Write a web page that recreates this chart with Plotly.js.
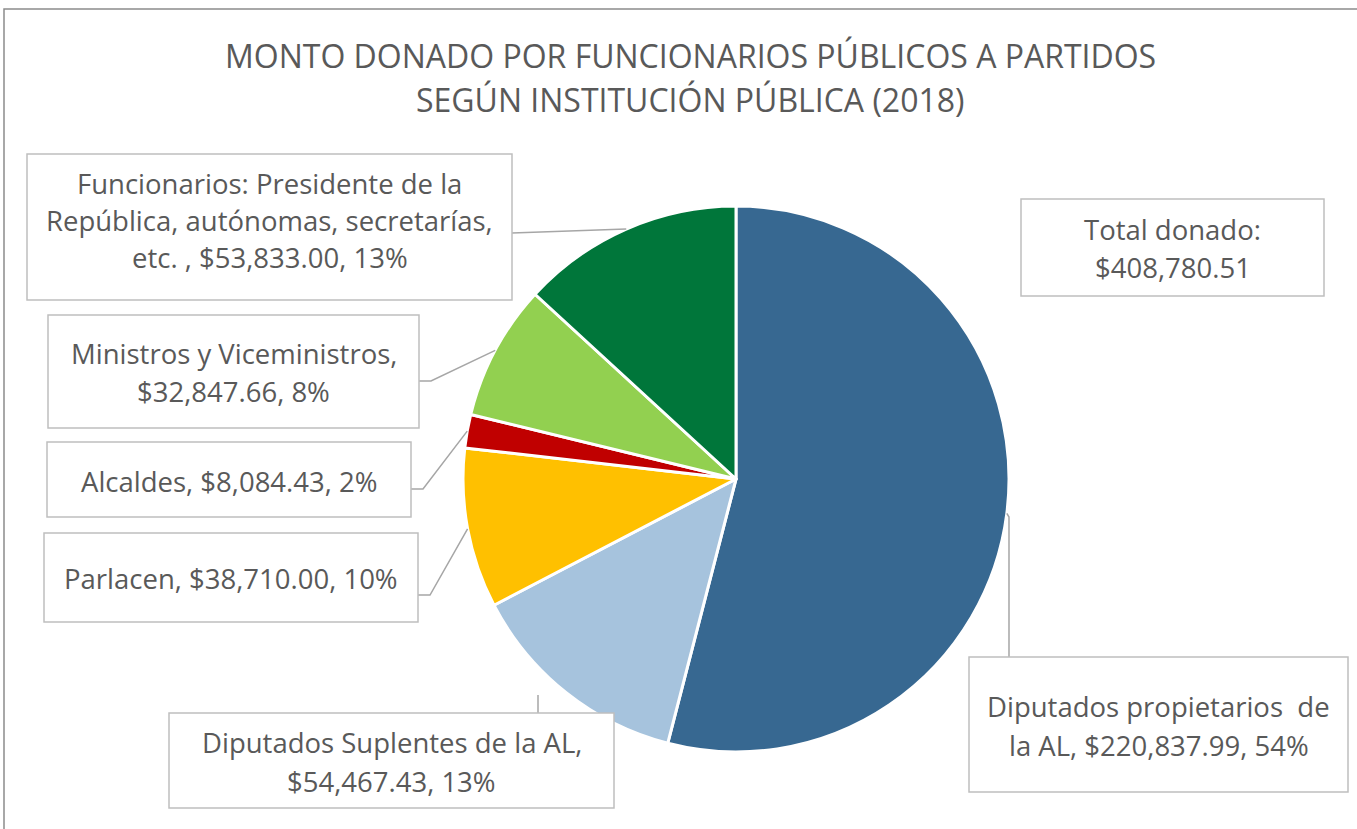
<!DOCTYPE html>
<html>
<head>
<meta charset="utf-8">
<script src="https://cdn.plot.ly/plotly-3.0.1.min.js"></script>
<style>
  html, body { margin: 0; padding: 0; background: #ffffff; }
  #chart { width: 1357px; height: 829px; }
</style>
</head>
<body>
<div id="chart"></div>
<script>
// ---------------- DATA ----------------
const titleLines = ["MONTO DONADO POR FUNCIONARIOS PÚBLICOS A PARTIDOS", "SEGÚN INSTITUCIÓN PÚBLICA (2018)"];
const categories = [
  "Diputados propietarios\u00a0 de la AL",
  "Diputados Suplentes de la AL",
  "Parlacen",
  "Alcaldes",
  "Ministros y Viceministros",
  "Funcionarios: Presidente de la República, autónomas, secretarías, etc. "
];
const values = [220837.99, 54467.43, 38710.00, 8084.43, 32847.66, 53833.00];
const pctLabels = [54, 13, 10, 2, 8, 13];
const colors = ["#376891", "#A6C3DD", "#FFC000", "#C00000", "#92D050", "#00763A"];
const totalLabel = "Total donado:";

// ---------------- LAYOUT GEOMETRY (pixels) ----------------
const W = 1357, H = 829;
const CX = 736, CY = 479, R = 273;
const X = px => px / W;
const Y = py => 1 - py / H;
const fmt = v => "$" + v.toLocaleString("en-US", {minimumFractionDigits: 2, maximumFractionDigits: 2});

// label boxes: box rect, line centre y's, words per line, leader path (after slice edge point)
const boxes = [
  {x0: 969, x1: 1348, y0: 657, y1: 792, ys: [706, 745], words: [3], leader: {edge: true, pts: [[1009, 517], [1009, 657]]}},
  {x0: 169, x1: 614, y0: 713, y1: 808, ys: [742, 781], words: [5], leader: {edge: false, pts: [[538, 695], [538, 713]]}},
  {x0: 44, x1: 418, y0: 533, y1: 622, ys: [578], words: [], leader: {edge: true, pts: [[430, 595], [418, 595]]}},
  {x0: 47, x1: 411, y0: 442, y1: 517, ys: [481], words: [], leader: {edge: true, pts: [[423, 489], [411, 489]]}},
  {x0: 48, x1: 419, y0: 315, y1: 428, ys: [353, 391], words: [3], leader: {edge: true, pts: [[431, 381], [419, 381]]}},
  {x0: 27, x1: 512, y0: 154, y1: 300, ys: [183, 220, 257], words: [4, 3], leader: {edge: true, pts: [[512, 233]]}}
];
const totalBox = {x0: 1021, x1: 1324, y0: 199, y1: 296, ys: [229, 267]};

const textColor = "#595959";
const fontFam = "'Open Sans', sans-serif";
const labelSize = 27.5;
const titleSize = 32;

// ---------------- BUILD ----------------
const total = values.reduce((a, b) => a + b, 0);
const shapes = [];
const annotations = [];

// outer frame
shapes.push({type: "rect", xref: "paper", yref: "paper", x0: X(4), x1: X(1362), y0: Y(9), y1: Y(840),
  line: {color: "#8C8C8C", width: 1.5}, fillcolor: "rgba(0,0,0,0)", layer: "below"});

// title
titleLines.forEach((t, i) => {
  annotations.push({xref: "paper", yref: "paper", x: X(690), y: Y([55, 100][i]), xanchor: "center", yanchor: "middle",
    text: t, showarrow: false, font: {family: fontFam, size: titleSize, color: textColor}});
});

function splitLines(str, words) {
  const w = str.split(" ");
  const lines = [];
  let idx = 0;
  words.forEach(n => { lines.push(w.slice(idx, idx + n).join(" ")); idx += n; });
  lines.push(w.slice(idx).join(" "));
  return lines;
}

function addBox(b, lines) {
  shapes.push({type: "rect", xref: "paper", yref: "paper", x0: X(b.x0), x1: X(b.x1), y0: Y(b.y0), y1: Y(b.y1),
    line: {color: "#BFBFBF", width: 1.5}, fillcolor: "#ffffff"});
  lines.forEach((ln, i) => {
    annotations.push({xref: "paper", yref: "paper", x: X((b.x0 + b.x1) / 2), y: Y(b.ys[i]), xanchor: "center", yanchor: "middle",
      text: ln, showarrow: false, font: {family: fontFam, size: labelSize, color: textColor}});
  });
}

let cum = 0;
values.forEach((v, i) => {
  const mid = 2 * Math.PI * (cum + v / 2) / total;
  cum += v;
  const ex = CX + R * Math.sin(mid), ey = CY - R * Math.cos(mid);
  const b = boxes[i];
  const pts = (b.leader.edge ? [[ex, ey]] : []).concat(b.leader.pts);
  const path = pts.map((p, k) => (k === 0 ? "M" : "L") + X(p[0]).toFixed(5) + "," + Y(p[1]).toFixed(5)).join(" ");
  shapes.push({type: "path", xref: "paper", yref: "paper", path: path, line: {color: "#A6A6A6", width: 1.5}});
  const label = categories[i] + ", " + fmt(v) + ", " + pctLabels[i] + "%";
  addBox(b, splitLines(label, b.words));
});
addBox(totalBox, [totalLabel, fmt(total)]);

const trace = {
  type: "pie",
  labels: categories,
  values: values,
  sort: false,
  direction: "clockwise",
  rotation: 0,
  textinfo: "none",
  hoverinfo: "none",
  marker: {colors: colors, line: {color: "#ffffff", width: 3}},
  domain: {x: [X(CX - R), X(CX + R)], y: [Y(CY + R), Y(CY - R)]},
  showlegend: false
};

const layout = {
  width: W, height: H,
  margin: {l: 0, r: 0, t: 0, b: 0},
  paper_bgcolor: "#ffffff",
  showlegend: false,
  shapes: shapes,
  annotations: annotations,
  font: {family: fontFam, color: textColor}
};

Plotly.newPlot("chart", [trace], layout, {displayModeBar: false, staticPlot: true});
</script>
</body>
</html>
